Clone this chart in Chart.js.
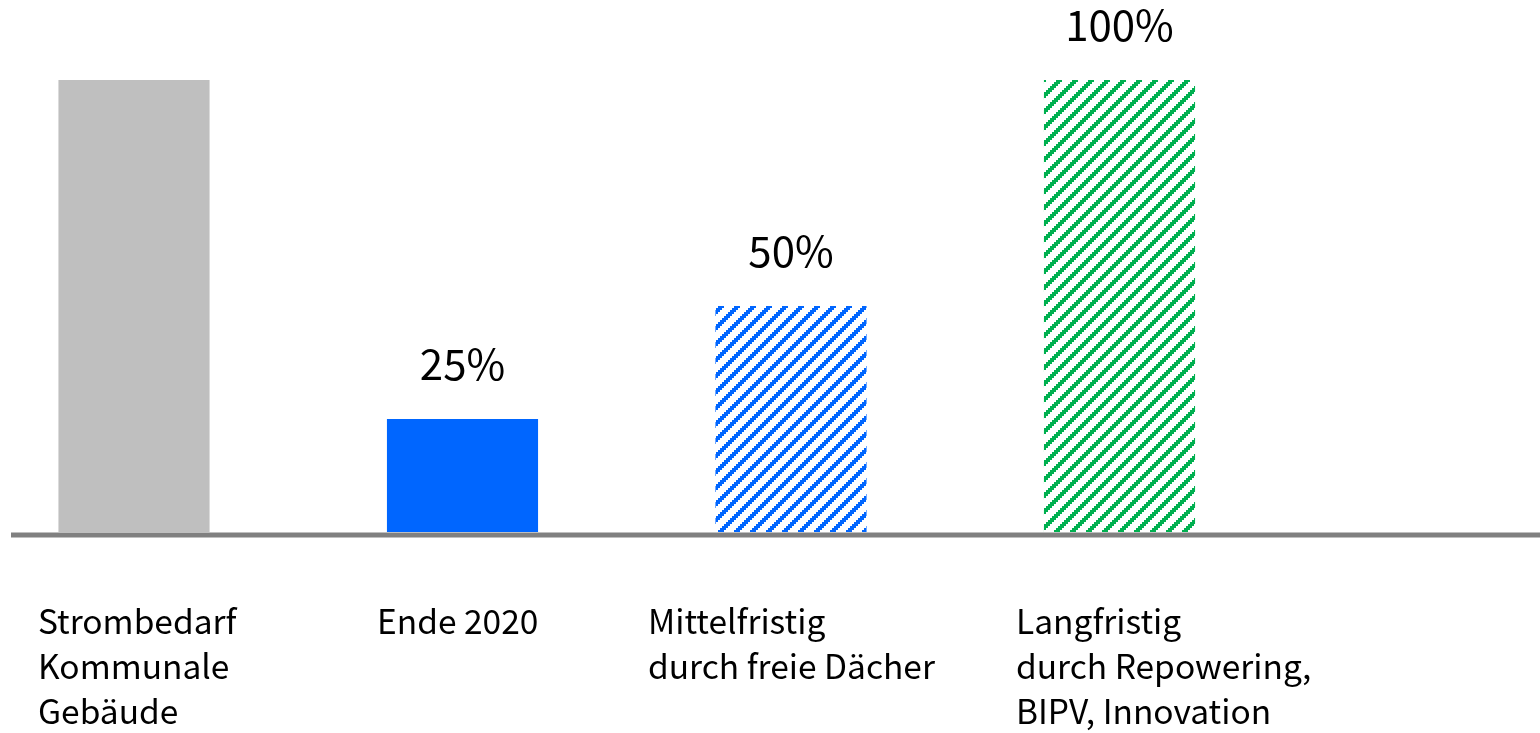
<!DOCTYPE html>
<html lang="de">
<head>
<meta charset="utf-8">
<title>PV-Anteil am Strombedarf kommunaler Gebäude</title>
<script src="https://cdn.jsdelivr.net/npm/chart.js@4.4.1/dist/chart.umd.min.js"></script>
<style>
  html, body { margin: 0; padding: 0; background: #fff; }
  #wrap { width: 1540px; height: 733px; }
</style>
</head>
<body>
<div id="wrap"><canvas id="chart" width="1540" height="733"></canvas></div>
<script>
/* ========== Data ========== */
const CATEGORIES = [
  ['Strombedarf', 'Kommunale', 'Gebäude'],
  ['Ende 2020'],
  ['Mittelfristig', 'durch freie Dächer'],
  ['Langfristig', 'durch Repowering,', 'BIPV, Innovation']
];
const VALUES = [100, 25, 50, 100];
const VALUE_LABELS = ['', '25%', '50%', '100%'];

/* ========== Layout / style ========== */
const LABEL_X = [38, 377, 648, 1016];
const LABEL_BASELINE = 634;
const LABEL_LINE = 45;
const FONT = "'Noto Sans CJK JP', 'Noto Sans', sans-serif";

const canvas = document.getElementById('chart');
const ctx = canvas.getContext('2d');

// pixelated diagonal stripes like the office "wide upward diagonal" fill
function makeHatch(color) {
  const c = document.createElement('canvas');
  c.width = 16; c.height = 16;
  const g = c.getContext('2d');
  g.fillStyle = color;
  for (let y = 0; y < 16; y += 2) {
    for (let x = 0; x < 16; x += 2) {
      if ((x / 2 + y / 2) % 8 < 3) g.fillRect(x, y, 2, 2);
    }
  }
  return ctx.createPattern(c, 'repeat');
}

const BAR_COLORS = ['#BFBFBF', '#0066FF', makeHatch('#0066FF'), makeHatch('#00B050')];

/* ========== Axis line + labels ========== */
const annotPlugin = {
  id: 'annot',
  afterDatasetsDraw(chart) {
    const { ctx } = chart;
    const y0 = chart.scales.y.getPixelForValue(0);
    ctx.save();
    // base line
    ctx.strokeStyle = '#808080';
    ctx.lineWidth = 5;
    ctx.beginPath();
    ctx.moveTo(11, y0 + 3);
    ctx.lineTo(chart.width, y0 + 3);
    ctx.stroke();

    // value labels above bars
    const meta = chart.getDatasetMeta(0);
    ctx.fillStyle = '#000';
    ctx.font = '42px ' + FONT;
    ctx.textAlign = 'center';
    ctx.textBaseline = 'alphabetic';
    meta.data.forEach((bar, i) => {
      if (VALUE_LABELS[i]) ctx.fillText(VALUE_LABELS[i], bar.x, bar.y - 39);
    });

    // category labels
    ctx.font = '33.5px ' + FONT;
    ctx.textAlign = 'left';
    CATEGORIES.forEach((lines, i) => {
      lines.forEach((t, k) => ctx.fillText(t, LABEL_X[i], LABEL_BASELINE + k * LABEL_LINE));
    });
    ctx.restore();
  }
};

new Chart(canvas, {
  type: 'bar',
  data: {
    labels: CATEGORIES.map(l => l.join(' ')),
    datasets: [{
      data: VALUES,
      backgroundColor: BAR_COLORS,
      borderWidth: 0,
      categoryPercentage: 1,
      barPercentage: 0.46,
      clip: false
    }]
  },
  options: {
    responsive: false,
    animation: false,
    layout: { padding: { top: 80, bottom: 201, left: 134, right: 420.5 } },
    plugins: {
      legend: { display: false },
      tooltip: { enabled: false }
    },
    scales: {
      x: { display: false, offset: false },
      y: { display: false, min: 0, max: 100 }
    }
  },
  plugins: [annotPlugin]
});
</script>
</body>
</html>
